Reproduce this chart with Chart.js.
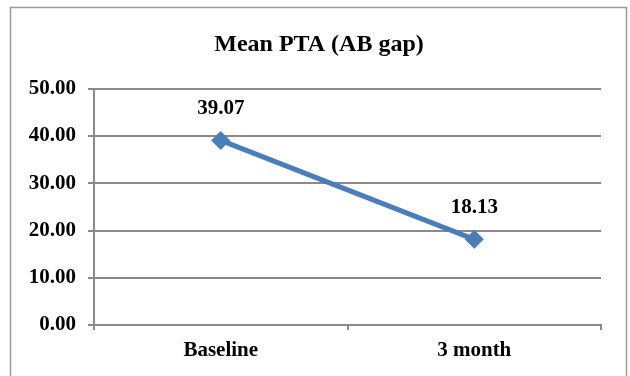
<!DOCTYPE html>
<html>
<head>
<meta charset="utf-8">
<script src="https://cdn.jsdelivr.net/npm/chart.js@4"></script>
<style>
  html, body { margin: 0; padding: 0; background: #fff; }
  #wrap { position: relative; width: 630px; height: 376px; }
</style>
</head>
<body>
<div id="wrap"><canvas id="ptaChart" width="630" height="376"></canvas></div>
<script>
const categories = ["Baseline", "3 month"];
const meanPta = [39.07, 18.13];
const yTicks = [0, 10, 20, 30, 40, 50];

const FONT = "'Liberation Serif', 'Times New Roman', serif";
const GRID = "#8a8a8a";
const BLUE = "#4a7ebb";

// outer frame around the whole chart
const framePlugin = {
  id: "frame",
  beforeDraw(chart) {
    const ctx = chart.ctx;
    ctx.save();
    ctx.strokeStyle = "#9a9a9a";
    ctx.lineWidth = 1.5;
    ctx.strokeRect(10.5, 7.5, 616, 400);
    ctx.restore();
  }
};

// value labels above each point
const valueLabels = {
  id: "valueLabels",
  afterDatasetsDraw(chart) {
    const ctx = chart.ctx;
    const meta = chart.getDatasetMeta(0);
    ctx.save();
    ctx.font = "bold 21px " + FONT;
    ctx.fillStyle = "#000";
    ctx.textAlign = "center";
    ctx.textBaseline = "middle";
    meta.data.forEach((pt, i) => {
      ctx.fillText(meanPta[i].toFixed(2), pt.x, pt.y - 32);
    });
    ctx.restore();
  }
};

const ctx = document.getElementById("ptaChart").getContext("2d");
new Chart(ctx, {
  type: "line",
  data: {
    labels: categories,
    datasets: [{
      label: "Mean PTA",
      data: meanPta,
      borderColor: BLUE,
      backgroundColor: BLUE,
      borderWidth: 5,
      pointStyle: "rectRot",
      pointRadius: 9,
      pointBorderWidth: 1,
      pointBackgroundColor: BLUE,
      pointBorderColor: BLUE,
      tension: 0
    }]
  },
  options: {
    responsive: false,
    animation: false,
    // small left pad so the title sits centred on the frame
    layout: { padding: { left: 8, right: 0, top: 0, bottom: 0 } },
    plugins: {
      legend: { display: false },
      tooltip: { enabled: false },
      title: {
        display: true,
        text: "Mean PTA (AB gap)",
        color: "#000",
        font: { family: FONT, size: 24, weight: "bold", lineHeight: 1.2 },
        padding: { top: 30, bottom: 30 }
      }
    },
    scales: {
      x: {
        offset: true,
        grid: { offset: true, drawOnChartArea: false, drawTicks: true, tickLength: 5, color: GRID, lineWidth: 2 },
        border: { display: true, color: GRID, width: 2 },
        ticks: { color: "#000", padding: 8, font: { family: FONT, size: 21, weight: "bold" } },
        afterFit(s) { s.height = 51; }
      },
      y: {
        min: 0,
        max: 50,
        afterBuildTicks(s) { s.ticks = yTicks.map(v => ({ value: v })); },
        grid: { color: GRID, lineWidth: 2, tickLength: 6 },
        border: { display: true, color: GRID, width: 2 },
        ticks: {
          color: "#000",
          padding: 12,
          font: { family: FONT, size: 21, weight: "bold" },
          callback: v => Number(v).toFixed(2)
        },
        afterFit(s) { s.width = 86; }
      },
      // empty right-hand axis, only there to leave the white gap right of the plot
      yRight: {
        position: "right",
        display: true,
        grid: { display: false },
        border: { display: false },
        ticks: { display: false },
        afterFit(s) { s.width = 29; }
      }
    }
  },
  plugins: [framePlugin, valueLabels]
});
</script>
</body>
</html>
